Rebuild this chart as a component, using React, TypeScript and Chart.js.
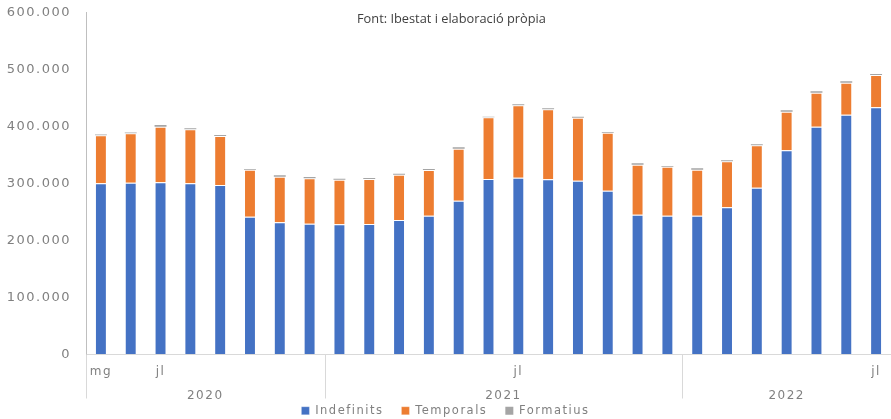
import React, { useEffect, useRef } from "react";
import { Chart, registerables } from "chart.js";

Chart.register(...registerables);

// ---- data ----
const MONTHS = [
  "mg", "jn", "jl", "ag", "st", "oc", "nv", "dc",
  "gn", "fb", "mç", "ab", "mg", "jn", "jl", "ag", "st", "oc", "nv", "dc",
  "gn", "fb", "mç", "ab", "mg", "jn", "jl",
];
const SHOWN_MONTH_TICKS = [0, 2, 14, 26];
const YEARS = ["2020", "2021", "2022"];
const YEAR_SPANS = [8, 12, 7];

const INDEFINITS = [
  300400, 301400, 302100, 300400, 297400, 241800, 231900, 229500,
  228400, 229000, 236000, 243500, 269800, 307900, 310200, 307400, 304900, 287400, 245300, 243500,
  243500, 258200, 292600, 358300, 399700, 420700, 433700,
];
const TEMPORALS = [
  84200, 86700, 97500, 94700, 86000, 82500, 80000, 79600,
  78200, 79000, 79500, 80200, 91200, 108200, 127000, 122800, 110500, 101800, 87700, 86000,
  80700, 80700, 74400, 67700, 59600, 56100, 56700,
];
const FORMATIUS = [
  1500, 1500, 3000, 1800, 1800, 1200, 2400, 2300,
  1800, 1800, 1800, 1800, 2400, 1200, 1800, 1800, 1800, 1200, 2400, 1200,
  2400, 1800, 1800, 2400, 2400, 2400, 1800,
];
const Y_MAX = 600000;
const Y_STEP = 100000;

const TITLE = "Font: Ibestat i elaboració pròpia";

const FONT = "'DejaVu Sans', sans-serif";
const TEXT_GRAY = "#808080";

function fmt(v: number): string {
  return String(Math.round(v)).replace(/\B(?=(\d{3})+(?!\d))/g, ".");
}

// year group boundaries / centers in category-index space
function yearGeometry() {
  const bounds: number[] = [-0.5];
  const centers: number[] = [];
  let acc = -0.5;
  YEAR_SPANS.forEach((s) => {
    centers.push(acc + s / 2);
    acc += s;
    bounds.push(acc);
  });
  return { bounds, centers };
}

const LEGEND_BOX = 15;
const LEGEND_DRAW_H = 32;

export default function App() {
  const canvasRef = useRef<HTMLCanvasElement | null>(null);

  useEffect(() => {
    const canvas = canvasRef.current;
    if (!canvas) return;
    const { bounds, centers } = yearGeometry();

    const spacingPlugin = {
      id: "spacing",
      beforeLayout(chart: any) {
        chart.ctx.letterSpacing = "1.5px";
        const lg = chart.legend;
        if (lg && !lg.__patched) {
          const orig = lg.fit.bind(lg);
          lg.fit = function () {
            orig();
            this.height = LEGEND_BOX;
          };
          lg.__patched = true;
        }
      },
      afterLayout(chart: any) {
        const lg = chart.legend;
        if (lg) {
          lg.top = chart.height - LEGEND_DRAW_H;
          lg.bottom = chart.height;
          lg.height = LEGEND_DRAW_H;
        }
      },
      beforeDraw(chart: any) {
        chart.ctx.letterSpacing = "1.5px";
      },
      afterDraw(chart: any) {
        const ctx = chart.ctx;
        const xs = chart.scales.x;
        const area = chart.chartArea;
        ctx.save();
        ctx.strokeStyle = "#d9d9d9";
        ctx.lineWidth = 1;
        bounds.slice(0, -1).forEach((b) => {
          const px = Math.round(xs.getPixelForValue(b)) + 0.5;
          ctx.beginPath();
          ctx.moveTo(px, area.bottom);
          ctx.lineTo(px, area.bottom + 44);
          ctx.stroke();
        });
        ctx.restore();
      },
    };

    const chart = new Chart(canvas, {
      type: "bar",
      data: {
        labels: MONTHS,
        datasets: [
          {
            label: "Indefinits",
            data: INDEFINITS,
            backgroundColor: "#4472c4",
            borderColor: "rgba(255,255,255,0.25)",
            borderWidth: 1,
          },
          {
            label: "Temporals",
            data: TEMPORALS,
            backgroundColor: "#ed7d31",
            borderColor: "rgba(255,255,255,0.25)",
            borderWidth: 1,
          },
          {
            label: "Formatius",
            data: FORMATIUS,
            backgroundColor: "#a5a5a5",
            borderWidth: 0,
          },
        ],
      },
      options: {
        animation: false,
        responsive: true,
        maintainAspectRatio: false,
        datasets: {
          bar: { barPercentage: 0.4, categoryPercentage: 1 },
        },
        layout: { padding: 0 },
        plugins: {
          legend: {
            position: "bottom",
            labels: {
              boxWidth: 8,
              boxHeight: 8,
              padding: 18,
              color: TEXT_GRAY,
              font: { family: FONT, size: 11.5 },
            },
          },
          title: { display: false },
          tooltip: { enabled: false },
        },
        scales: {
          x: {
            type: "category",
            stacked: true,
            weight: 0,
            grid: { display: true, drawOnChartArea: false, drawTicks: false },
            border: { display: true, color: "#d9d9d9", width: 1 },
            ticks: {
              autoSkip: false,
              maxRotation: 0,
              padding: 10,
              color: TEXT_GRAY,
              font: { family: FONT, size: 12 },
              callback: (_v: any, i: number) =>
                SHOWN_MONTH_TICKS.includes(i) ? MONTHS[i] : "",
            },
            afterFit: (s: any) => {
              s.height = 26;
            },
          },
          x2: {
            type: "linear",
            position: "bottom",
            weight: 1,
            offset: false,
            min: bounds[0],
            max: bounds[bounds.length - 1],
            grid: { display: false },
            border: { display: false },
            afterBuildTicks: (s: any) => {
              s.ticks = centers.map((c) => ({ value: c }));
            },
            ticks: {
              autoSkip: false,
              maxRotation: 0,
              padding: 0,
              color: TEXT_GRAY,
              font: { family: FONT, size: 12 },
              callback: (v: any) => {
                const k = centers.findIndex((c) => Math.abs(c - Number(v)) < 1e-6);
                return k >= 0 ? YEARS[k] : "";
              },
            },
            afterFit: (s: any) => {
              s.height = 23.5;
              s.paddingLeft = 0;
              s.paddingRight = 0;
            },
          },
          y: {
            stacked: true,
            min: 0,
            max: Y_MAX,
            grid: { display: true, drawOnChartArea: false, drawTicks: false },
            border: { display: true, color: "#bfbfbf", width: 1 },
            ticks: {
              stepSize: Y_STEP,
              padding: 15,
              color: TEXT_GRAY,
              font: { family: FONT, size: 13 },
              callback: (v: any) => fmt(Number(v)),
            },
            afterFit: (s: any) => {
              s.width = 86;
              s.paddingTop = 12.5;
              s.paddingBottom = 8;
            },
          },
        },
      },
      plugins: [spacingPlugin],
    });

    return () => {
      chart.destroy();
    };
  }, []);

  return (
    <div
      style={{
        position: "absolute",
        left: 0,
        top: 0,
        width: 891,
        height: 419,
        background: "#ffffff",
        overflow: "hidden",
      }}
    >
      <canvas ref={canvasRef} />
      <div
        style={{
          position: "absolute",
          left: 357,
          top: 9,
          fontFamily: "'Open Sans', sans-serif",
          fontSize: 12.8,
          color: "#404040",
          whiteSpace: "nowrap",
          pointerEvents: "none",
        }}
      >
        {TITLE}
      </div>
    </div>
  );
}
